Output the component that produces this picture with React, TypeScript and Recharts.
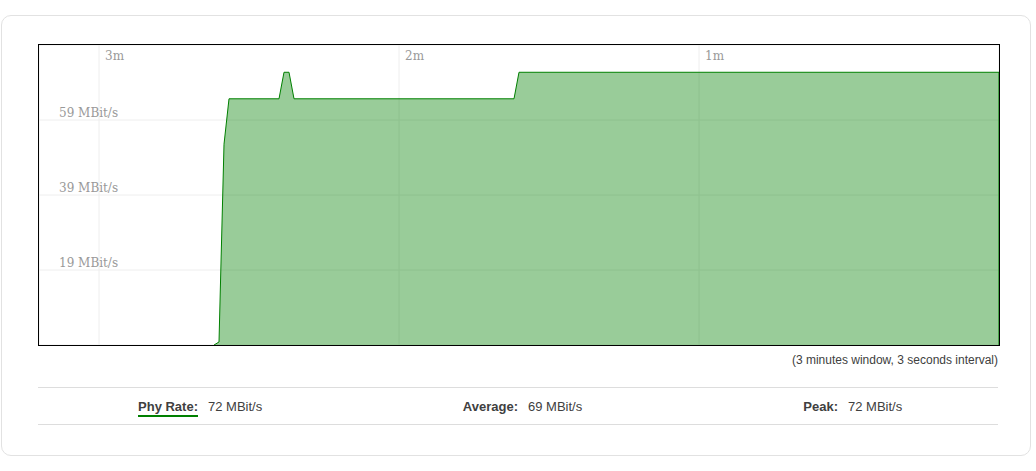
import { AreaChart, Area, XAxis, YAxis, CartesianGrid, ReferenceLine } from 'recharts';

// seconds before "now" for each sample, and the phy rate (MBit/s) at that moment
const SECONDS_AGO = [157, 156, 155, 154, 144, 143, 142, 141, 97, 96, 0];
const PHY_RATE = [0, 0.8, 53, 65, 65, 72, 72, 65, 65, 72, 72];
const TIME_TICKS = [180, 120, 60];
const WINDOW_SECONDS = 192;

const CURRENT = 72;
const AVERAGE = 69;
const PEAK = 72;

const data = SECONDS_AGO.map((ago, i) => ({ ago, rate: PHY_RATE[i] }));
const yMax = PEAK * 1.1;
const rateTicks = [0.25, 0.5, 0.75].map((f) => yMax * f);
const last = data[data.length - 1];

const LABEL_FONT = '"DejaVu Serif", serif';

function TimeTick({ x, payload }: any) {
  return (
    <text x={x + 6} y={15} fill="#999" fontSize={12} fontFamily={LABEL_FONT}>
      {payload.value / 60}m
    </text>
  );
}

function RateTick({ y, payload }: any) {
  return (
    <text x={20} y={y - 3} fill="#999" fontSize={12} fontFamily={LABEL_FONT}>
      {Math.floor(payload.value)} MBit/s
    </text>
  );
}

const stat = { fontWeight: 700 as const, textAlign: 'right' as const, width: 160 };
const val = { width: 160, paddingLeft: 10, boxSizing: 'border-box' as const };

export default function App() {
  return (
    <div style={{ position: 'relative', width: 1036, height: 471, background: '#fff', fontFamily: '"Liberation Sans", Arial, sans-serif' }}>
      <style>{'body{margin:0}'}</style>
      <div style={{ position: 'absolute', left: 1, top: 15, width: 1028, height: 439, border: '1px solid #e2e2e2', borderRadius: 10 }} />
      <div style={{ position: 'absolute', left: 38, top: 44, width: 960, height: 300, border: '1px solid #000' }} />
      <div style={{ position: 'absolute', left: 39, top: 45 }}>
        <AreaChart width={960} height={300} data={data} margin={{ top: 0, right: 0, bottom: 0, left: 0 }}>
          <CartesianGrid stroke="#eee" strokeWidth={1} />
          <XAxis
            type="number"
            dataKey="ago"
            domain={[0, WINDOW_SECONDS]}
            reversed
            orientation="top"
            mirror
            height={30}
            ticks={TIME_TICKS}
            interval={0}
            axisLine={false}
            tickLine={false}
            tick={(props: any) => <TimeTick {...props} />}
          />
          <YAxis
            type="number"
            domain={[0, yMax]}
            mirror
            width={80}
            ticks={rateTicks}
            interval={0}
            axisLine={false}
            tickLine={false}
            tick={(props: any) => <RateTick {...props} />}
          />
          <Area
            type="linear"
            dataKey="rate"
            stroke="green"
            strokeWidth={1}
            fill="#008000"
            fillOpacity={0.4}
            dot={false}
            activeDot={false}
            isAnimationActive={false}
          />
          <ReferenceLine
            segment={[{ x: last.ago, y: 0 }, { x: last.ago, y: last.rate }]}
            stroke="green"
            strokeWidth={1}
          />
        </AreaChart>
      </div>
      <div style={{ position: 'absolute', right: 38, top: 353, fontSize: 12, color: '#404040' }}>
        (3 minutes window, 3 seconds interval)
      </div>
      <div style={{ position: 'absolute', left: 38, top: 387, width: 960, height: 38, borderTop: '1px solid #ddd', borderBottom: '1px solid #ddd', boxSizing: 'border-box', display: 'flex', alignItems: 'center', fontSize: 13, color: '#404040' }}>
        <div style={stat}>
          <span style={{ borderBottom: '2px solid green', paddingBottom: 1 }}>Phy Rate:</span>
        </div>
        <div style={val}>{CURRENT} MBit/s</div>
        <div style={stat}>Average:</div>
        <div style={val}>{AVERAGE} MBit/s</div>
        <div style={stat}>Peak:</div>
        <div style={val}>{PEAK} MBit/s</div>
      </div>
    </div>
  );
}
